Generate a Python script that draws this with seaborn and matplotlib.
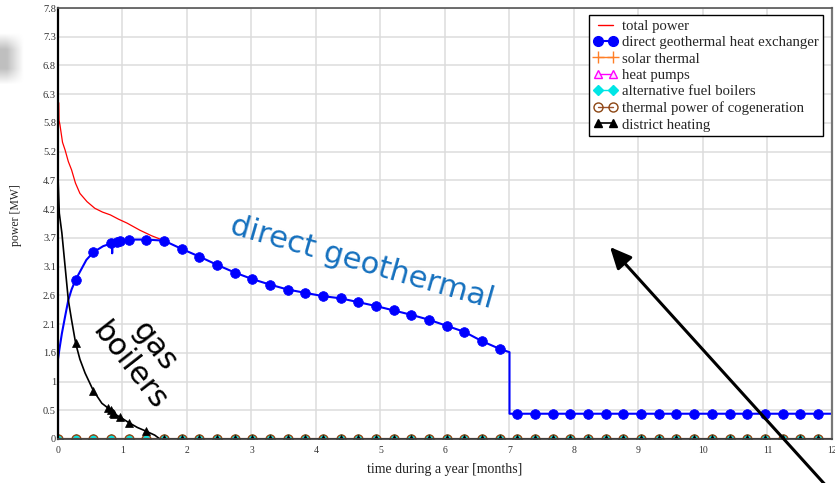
import numpy as np
import pandas as pd
import matplotlib
matplotlib.use("Agg")
import matplotlib.pyplot as plt
from matplotlib.lines import Line2D
from matplotlib.patches import FancyArrowPatch
import seaborn as sns

# ---------------------------------------------------------------- data
HOURS_PER_MONTH = 730
LOG_STEP_HOURS = 200          # simulation log is written every 200 h
YEAR_END = 12.0

# total power, up to the point where it coincides with the geothermal output
total_months = [0.012, 0.016, 0.03, 0.07, 0.11, 0.16, 0.21, 0.27, 0.34, 0.45,
                0.57, 0.69, 0.81, 0.94, 1.07, 1.27, 1.45, 1.644]
total_mw = [6.12, 5.80, 5.72, 5.40, 5.26, 5.05, 4.90, 4.66, 4.47, 4.32,
            4.20, 4.13, 4.08, 4.00, 3.93, 3.80, 3.70, 3.61]

# direct geothermal heat exchanger, first seven months
geo_months = [0.0, 0.0, 0.02, 0.06, 0.11, 0.16, 0.21, 0.274, 0.44, 0.548,
              0.70, 0.80, 0.822, 0.835, 0.84, 0.845, 0.91, 0.96, 1.096, 1.37,
              1.644, 1.918, 2.192, 2.466, 2.74, 3.014, 3.288, 3.562, 3.836, 4.11,
              4.384, 4.658, 4.932, 5.205, 5.479, 5.753, 6.027, 6.301, 6.575, 6.849,
              7.0, 7.0]
geo_mw = [0.0, 1.45, 1.62, 1.92, 2.23, 2.53, 2.72, 2.90, 3.26, 3.40,
          3.51, 3.55, 3.56, 3.56, 3.38, 3.57, 3.59, 3.60, 3.63, 3.63,
          3.61, 3.46, 3.32, 3.17, 3.03, 2.91, 2.81, 2.72, 2.66, 2.60,
          2.56, 2.49, 2.42, 2.34, 2.26, 2.17, 2.06, 1.95, 1.78, 1.64,
          1.58, 0.46]
geo_extra_marks = [0.91, 0.96]
geo_base_mw = 0.46            # flat output from month 7 to year end

# district heating (gas boilers) until it switches off
dh_months = [0.0, 0.02, 0.06, 0.11, 0.16, 0.21, 0.274, 0.34, 0.42, 0.548,
             0.68, 0.78, 0.822, 0.85, 0.87, 0.96, 1.096, 1.23, 1.37, 1.50, 1.58]
dh_mw = [4.78, 4.11, 3.75, 3.14, 2.53, 2.17, 1.74, 1.45, 1.20, 0.88,
         0.65, 0.56, 0.52, 0.48, 0.46, 0.40, 0.30, 0.21, 0.14, 0.07, 0.0]
dh_extra_marks = [0.78, 0.85, 0.87, 0.96]
dh_off_mw = 0.0

# sources that stay idle the whole year
idle_mw = 0.0

y_max = 7.845
y_tick_labels = ["0", "0.5", "1", "1.6", "2.1", "2.6", "3.1", "3.7",
                 "4.2", "4.7", "5.2", "5.8", "6.3", "6.8", "7.3", "7.8"]
x_ticks = list(range(13))

legend_labels = ["total power", "direct geothermal heat exchanger", "solar thermal",
                 "heat pumps", "alternative fuel boilers",
                 "thermal power of cogeneration", "district heating"]

# ---------------------------------------------------------------- helpers
log_months = np.round(np.arange(0, 8760, LOG_STEP_HOURS) / HOURS_PER_MONTH, 3)


def extend_flat(months, mw, level, start):
    tail = [float(m) for m in log_months if m > start + 1e-9]
    return list(months) + tail + [YEAR_END], list(mw) + [level] * (len(tail) + 1)


def marker_index(months, extras=(), skip_start=True):
    m = np.round(np.asarray(months, dtype=float), 3)
    sel = np.isin(m, log_months) | np.isin(m, np.round(np.asarray(extras, dtype=float), 3))
    if skip_start:
        sel &= m > 0
    return [int(i) for i in np.flatnonzero(sel)]


# ---------------------------------------------------------------- style
sns.set_style("whitegrid")
plt.rcParams["font.family"] = ["Liberation Serif", "DejaVu Serif"]

fig = plt.figure(figsize=(8.35, 4.83), dpi=100)
ax = fig.add_axes([58 / 835, 1 - 439 / 483, 774 / 835, 431 / 483])


def draw(months, mw, **kw):
    df = pd.DataFrame({"month": months, "MW": mw})
    sns.lineplot(data=df, x="month", y="MW", estimator=None, sort=False,
                 ax=ax, legend=False, **kw)


# total power
draw(total_months, total_mw, color="#ff0000", linewidth=0.9)

# geothermal
g_m, g_p = extend_flat(geo_months, geo_mw, geo_base_mw, 7.0)
draw(g_m, g_p, color="#0000ff", linewidth=1.5, marker="o", markersize=7,
     markevery=marker_index(g_m, geo_extra_marks),
     markerfacecolor="#0000ff", markeredgecolor="#0000ff", markeredgewidth=0.5)

# idle sources on the zero line
z_m = [float(m) for m in log_months] + [YEAR_END]
z_p = [idle_mw] * len(z_m)
z_idx = marker_index(z_m, skip_start=False)
draw(z_m, z_p, color="#ff7f27", linewidth=1.0, marker="+", markersize=7,
     markevery=z_idx, markeredgecolor="#ff7f27", markeredgewidth=1.0)
draw(z_m, z_p, color="#ff00ff", linewidth=1.0, marker="^", markersize=6,
     markevery=z_idx, markerfacecolor="none", markeredgecolor="#ff00ff",
     markeredgewidth=1.0)
draw(z_m, z_p, color="#00e5e5", linewidth=1.0, marker="D", markersize=5.5,
     markevery=z_idx, markerfacecolor="#00e5e5", markeredgecolor="#00e5e5",
     markeredgewidth=0.5)
draw(z_m, z_p, color="#a0522d", linewidth=1.6, marker="o", markersize=6.5,
     markevery=z_idx, markerfacecolor="none", markeredgecolor="#8b4513",
     markeredgewidth=1.0)

# district heating
d_m, d_p = extend_flat(dh_months, dh_mw, dh_off_mw, 1.58)
draw(d_m, d_p, color="black", linewidth=1.2, marker="^", markersize=6,
     markevery=marker_index(d_m, dh_extra_marks),
     markerfacecolor="black", markeredgecolor="black", markeredgewidth=0.5)

# ---------------------------------------------------------------- axes
ax.set_xlim(0, 12)
ax.set_ylim(0, y_max)
ax.set_xticks(x_ticks)
ax.set_xticklabels([str(t) for t in x_ticks])
ax.set_yticks(np.linspace(0, y_max, len(y_tick_labels)))
ax.set_yticklabels(y_tick_labels)
ax.tick_params(axis="x", length=0, pad=5, labelsize=7, labelcolor="#333333")
ax.tick_params(axis="y", length=0, pad=1.5, labelsize=7.5, labelcolor="#333333")
ax.grid(True, color="#dcdcdc", linewidth=1.1)
ax.set_axisbelow(True)

for side, col, lw in [("left", "black", 1.6), ("bottom", "#444444", 1.3),
                      ("top", "#555555", 1.2), ("right", "#777777", 1.6)]:
    ax.spines[side].set_visible(True)
    ax.spines[side].set_color(col)
    ax.spines[side].set_linewidth(lw)

ax.set_xlabel("time during a year [months]", fontsize=10, color="#222222")
ax.xaxis.set_label_coords(0.5, -0.055)
ax.set_ylabel("power [MW]", fontsize=8.5, color="#222222")
ax.yaxis.set_label_coords(-0.046, 0.52)

handles = [
    Line2D([], [], color="#ff0000", lw=1.0),
    Line2D([], [], color="#0000ff", lw=1.5, marker="o", ms=7, mfc="#0000ff", mec="#0000ff"),
    Line2D([], [], color="#ff7f27", lw=1.0, marker="+", ms=8, mec="#ff7f27", mew=1.0),
    Line2D([], [], color="#ff00ff", lw=1.0, marker="^", ms=6, mfc="#ffe0ff", mec="#ff00ff", mew=1.0),
    Line2D([], [], color="#00e5e5", lw=1.0, marker="D", ms=5, mfc="#00e5e5", mec="#00e5e5"),
    Line2D([], [], color="#a0522d", lw=1.0, marker="o", ms=6.5, mfc="none", mec="#8b4513", mew=1.0),
    Line2D([], [], color="black", lw=1.2, marker="^", ms=6, mfc="black", mec="black"),
]
leg = ax.legend(handles, legend_labels, loc="upper right",
                bbox_to_anchor=((823 - 58) / 774, (439 - 15) / 431),
                borderaxespad=0, numpoints=2, handlelength=1.6, handletextpad=0.3,
                labelspacing=0.21, borderpad=0.3, fontsize=10.6, fancybox=False,
                framealpha=1, edgecolor="black")
leg.get_frame().set_linewidth(1.0)

# ---------------------------------------------------------------- annotations
fig.text(362 / 835, 1 - 263 / 483, "direct geothermal", fontsize=22,
         family="DejaVu Sans", color="#1570be", rotation=-16,
         rotation_mode="anchor", ha="center", va="center")
fig.text(142 / 835, 1 - 356 / 483, "gas\nboilers", fontsize=22,
         family="DejaVu Sans", color="black", rotation=-52,
         rotation_mode="anchor", ha="center", va="center",
         multialignment="center", linespacing=1.15)

fig.add_artist(FancyArrowPatch(
    posA=(829 / 835, -6 / 483), posB=(610 / 835, 1 - 247 / 483),
    transform=fig.transFigure, arrowstyle="-|>,head_length=0.65,head_width=0.3",
    mutation_scale=20, linewidth=2.2, color="black", shrinkA=0, shrinkB=0))

# soft grey smudge at the upper-left margin
smudge_ax = fig.add_axes([0, 1 - 85 / 483, 24 / 835, 52 / 483])
xx = np.linspace(0, 1, 48)
yy = np.linspace(-1, 1, 52)
shade = np.clip((1 - xx) * 1.4, 0, 1)[None, :] * np.clip(1.6 - 1.6 * np.abs(yy), 0, 1)[:, None]
smudge_ax.imshow(1 - 0.25 * shade, cmap="gray", vmin=0, vmax=1, aspect="auto")
smudge_ax.axis("off")

fig.savefig("out.png", dpi=100)
